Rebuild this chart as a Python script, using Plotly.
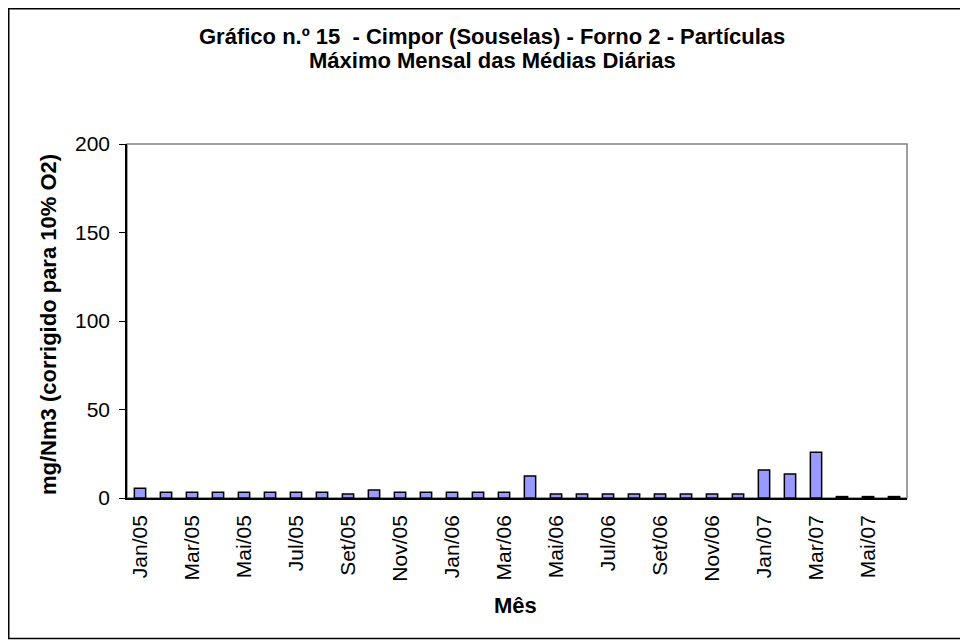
import plotly.graph_objects as go

meses = ['Jan/05', 'Fev/05', 'Mar/05', 'Abr/05', 'Mai/05', 'Jun/05', 'Jul/05', 'Ago/05', 'Set/05', 'Out/05', 'Nov/05', 'Dez/05',
         'Jan/06', 'Fev/06', 'Mar/06', 'Abr/06', 'Mai/06', 'Jun/06', 'Jul/06', 'Ago/06', 'Set/06', 'Out/06', 'Nov/06', 'Dez/06',
         'Jan/07', 'Fev/07', 'Mar/07', 'Abr/07', 'Mai/07', 'Jun/07']
particulas = [5.5, 3.3, 3.3, 3.3, 3.3, 3.3, 3.3, 3.3, 2.2, 4.5, 3.3, 3.3,
              3.3, 3.3, 3.3, 12.5, 2.2, 2.2, 2.2, 2.2, 2.2, 2.2, 2.2, 2.2,
              15.8, 13.5, 25.8, 0.8, 0.8, 0.8]
y_ticks = [0, 50, 100, 150, 200]

titulo_1 = 'Gráfico n.º 15  - Cimpor (Souselas) - Forno 2 - Partículas'
titulo_2 = 'Máximo Mensal das Médias Diárias'

fig = go.Figure()
fig.add_trace(go.Bar(x=meses, y=particulas, marker_color='#9999FF',
                     marker_line_color='black', marker_line_width=1.5))

fig.update_layout(
    width=968, height=640,
    margin=dict(l=119, r=69, t=136, b=150),
    paper_bgcolor='white', plot_bgcolor='white',
    font=dict(family='Arial, Liberation Sans', color='black'),
    bargap=0.565, showlegend=False,
)
fig.update_xaxes(type='category', tickvals=meses[::2], ticktext=meses[::2], tickangle=-90,
                 tickfont=dict(size=21), showline=True, linecolor='black', linewidth=1.5,
                 ticks='', ticklabelstandoff=7, showgrid=False)
fig.update_yaxes(range=[0, 200], tickvals=y_ticks, tickfont=dict(size=21),
                 showline=True, linecolor='black', linewidth=1.5, ticks='outside', ticklen=6,
                 tickcolor='black', ticklabelstandoff=5, showgrid=False, zeroline=False)

# moldura do gráfico e da área de plotagem
fig.add_shape(type='rect', xref='paper', yref='paper', x0=0, x1=1, y0=0, y1=1,
              line=dict(color='#808080', width=1.5), layer='below')
fig.add_shape(type='rect', xref='paper', yref='paper', x0=-0.1516, x1=1.0744, y0=-0.3969, y1=1.3821,
              line=dict(color='black', width=1.5))

# títulos
fig.add_annotation(text='<b>' + titulo_1 + '</b>', xref='paper', yref='paper', x=0.468, y=1.3023,
                   xanchor='center', yanchor='middle', showarrow=False, font=dict(size=22))
fig.add_annotation(text='<b>' + titulo_2 + '</b>', xref='paper', yref='paper', x=0.468, y=1.2345,
                   xanchor='center', yanchor='middle', showarrow=False, font=dict(size=22))
fig.add_annotation(text='<b>mg/Nm3 (corrigido para 10% O2)</b>', xref='paper', yref='paper',
                   x=-0.1013, y=0.4915, xanchor='center', yanchor='middle', textangle=-90,
                   showarrow=False, font=dict(size=22))
fig.add_annotation(text='<b>Mês</b>', xref='paper', yref='paper', x=0.498, y=-0.3023,
                   xanchor='center', yanchor='middle', showarrow=False, font=dict(size=22))

fig.write_html('out.html')
